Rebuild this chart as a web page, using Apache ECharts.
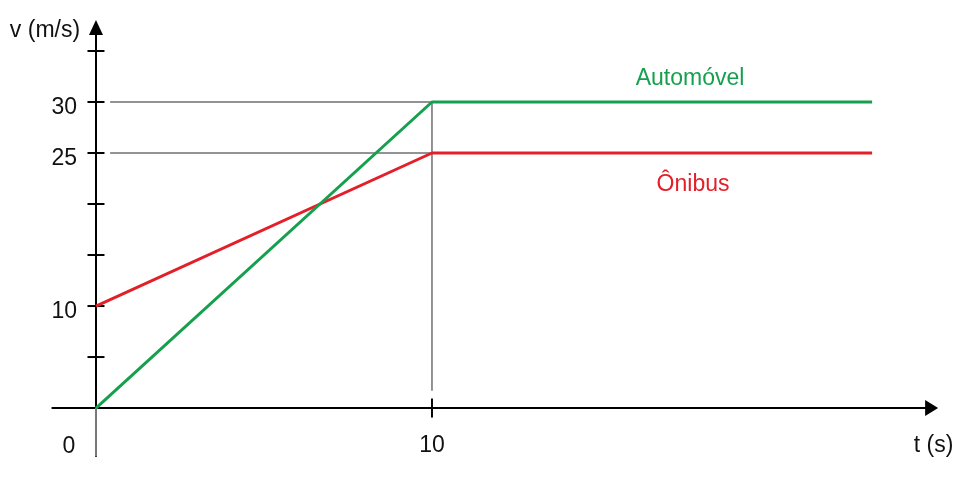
<!DOCTYPE html>
<html>
<head>
<meta charset="utf-8">
<script src="https://cdn.jsdelivr.net/npm/echarts@6/dist/echarts.min.js"></script>
<style>
html,body{margin:0;padding:0;background:#fff;}
#chart{width:964px;height:478px;}
</style>
</head>
<body>
<div id="chart"></div>
<script>
// tempo (s) e velocidade (m/s)
var tempo = [0, 10, 23.1];
var automovel = [0, 30, 30];
var onibus = [10, 25, 25];
var yTicks = [5, 10, 15, 20, 25, 30, 35];
var yLabels = [10, 25, 30];
var xTicks = [10];
var xLabels = [10];

var FONT = 'Liberation Sans';
var chart = echarts.init(document.getElementById('chart'));

function pares(xs, ys){
	var out = [];
	for (var i = 0; i < xs.length; i++) out.push([xs[i], ys[i]]);
	return out;
}

var option = {
	animation: false,
	grid: { left: 52.3, right: 964 - 932.6, top: 26.5, bottom: 22, containLabel: false, outerBoundsMode: 'none' },
	xAxis: {
		type: 'value',
		min: -1.3, max: 24.9,
		splitLine: { show: false },
		axisTick: { show: false },
		axisLine: { onZero: true, symbol: ['none', 'triangle'], symbolSize: [16, 13], symbolOffset: [0, -1],
			lineStyle: { color: '#000', width: 2 } },
		// rótulos ficam na borda da grade, não na linha do eixo
		axisLabel: { customValues: xLabels, margin: -22, fontFamily: FONT, fontSize: 23, color: '#111' }
	},
	yAxis: {
		type: 'value',
		min: -4.7, max: 37.4,
		splitLine: { show: false },
		axisTick: { show: false },
		axisLine: { onZero: true, symbol: ['none', 'triangle'], symbolSize: [14, 15], symbolOffset: [0, -1],
			lineStyle: { color: '#000', width: 2 } },
		axisLabel: { customValues: yLabels, margin: -24.7, fontFamily: FONT, fontSize: 23, color: '#111',
			verticalAlign: 'top', lineHeight: 12 }
	},
	series: [
		// linhas de referência
		{ type: 'line', silent: true, symbol: 'none', z: 1,
		  lineStyle: { color: '#6f6f6f', width: 1.5 },
		  data: [[0.42, 30], [10, 30], [10, 1.7]] },
		{ type: 'line', silent: true, symbol: 'none', z: 1,
		  lineStyle: { color: '#6f6f6f', width: 1.5 },
		  data: [[0.42, 25], [10, 25]] },
		// eixo v abaixo de zero (cinza)
		{ type: 'line', silent: true, symbol: 'none', z: 3,
		  lineStyle: { color: '#7a7a7a', width: 2 },
		  data: [[0, -4.7], [0, 0]] },
		// marcas dos eixos
		{ type: 'scatter', silent: true, symbol: 'rect', symbolSize: [17, 2], z: 3,
		  itemStyle: { color: '#000', opacity: 1 },
		  data: yTicks.map(function (v) { return [0, v]; }) },
		{ type: 'scatter', silent: true, symbol: 'rect', symbolSize: [2, 19], z: 3,
		  itemStyle: { color: '#000', opacity: 1 },
		  data: xTicks.map(function (v) { return [v, 0]; }) },
		{ name: 'Ônibus', type: 'line', symbol: 'none', z: 4,
		  lineStyle: { color: '#e3202a', width: 3 },
		  data: pares(tempo, onibus) },
		{ name: 'Automóvel', type: 'line', symbol: 'none', z: 5,
		  lineStyle: { color: '#16a04e', width: 3 },
		  data: pares(tempo, automovel) },
		// textos
		{ type: 'scatter', silent: true, symbolSize: 0, z: 6,
		  itemStyle: { opacity: 1 },
		  label: { show: true, fontFamily: FONT, fontSize: 23, position: 'inside' },
		  data: [
			{ value: [17.68, 32.25], label: { formatter: 'Automóvel', color: '#16a04e' } },
			{ value: [17.77, 21.9], label: { formatter: 'Ônibus', color: '#e3202a' } },
			{ value: [0, 0], label: { formatter: '0', color: '#111', fontSize: 23, offset: [-27, 39] } },
			{ value: [24.9, 0], label: { formatter: 't (s)', color: '#111', fontSize: 23, offset: [1, 38] } },
			{ value: [0, 37.4], label: { formatter: 'v (m/s)', color: '#111', fontSize: 23, offset: [-51, 4] } }
		  ] }
	]
};
chart.setOption(option);
</script>
</body>
</html>
